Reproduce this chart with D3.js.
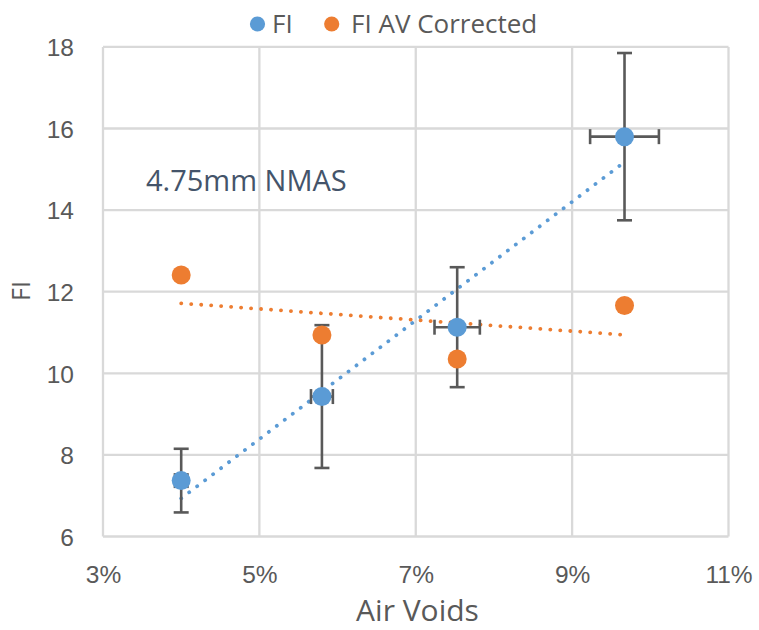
<!DOCTYPE html>
<html lang="en">
<head>
    <meta charset="UTF-8">
    <title>FI vs Air Voids</title>
    <script src="https://d3js.org/d3.v7.min.js"></script>
    <style>
        body {
            margin: 0;
            padding: 0;
            background: #fff;
        }
        svg {
            font-family: "Open Sans", "Noto Sans", sans-serif;
        }
    </style>
</head>
<body>
    <svg width="759" height="630"></svg>

    <script>
        // Measured values
        const airVoids = [4.0, 5.8, 7.53, 9.67];          // percent
        const airVoidsErr = [0.08, 0.14, 0.29, 0.44];
        const fi = [7.37, 9.43, 11.13, 15.8];
        const fiErr = [0.78, 1.75, 1.47, 2.05];
        const fiCorrected = [12.41, 10.94, 10.35, 11.66];

        const xTicks = [3, 5, 7, 9, 11];
        const yTicks = [6, 8, 10, 12, 14, 16, 18];

        const blue = "#5B9BD5";
        const orange = "#ED7D31";
        const grey = "#595959";

        const svg = d3.select("svg");
        svg.append("rect").attr("width", 759).attr("height", 630).attr("fill", "#fff");

        const x = d3.scaleLinear().domain([3, 11]).range([103, 728.5]);
        const y = d3.scaleLinear().domain([6, 18]).range([536.5, 46.9]);

        // Gridlines
        const grid = svg.append("g").attr("stroke", "#d9d9d9").attr("stroke-width", 2.3);
        grid.selectAll(".gx").data(xTicks).join("line")
            .attr("x1", d => x(d)).attr("x2", d => x(d))
            .attr("y1", y(18)).attr("y2", y(6));
        grid.selectAll(".gy").data(yTicks).join("line")
            .attr("x1", x(3)).attr("x2", x(11))
            .attr("y1", d => y(d)).attr("y2", d => y(d));

        // Axes (labels only, Excel style)
        const xAxis = svg.append("g")
            .attr("transform", `translate(0,${y(6)})`)
            .call(d3.axisBottom(x).tickValues(xTicks).tickSize(0).tickPadding(29.5)
                .tickFormat(d => d + "%"));
        const yAxis = svg.append("g")
            .attr("transform", `translate(${x(3)},0)`)
            .call(d3.axisLeft(y).tickValues(yTicks).tickSize(0).tickPadding(29));
        [xAxis, yAxis].forEach(a => {
            a.select(".domain").remove();
            a.selectAll("text")
                .attr("fill", grey)
                .style("font-size", "24.5px")
                .style("font-family", null);
        });
        yAxis.selectAll("text").attr("dy", "0.36em");

        // Axis titles
        svg.append("text")
            .attr("x", 417.5).attr("y", 621)
            .attr("text-anchor", "middle")
            .attr("fill", grey)
            .style("font-size", "30px")
            .text("Air Voids");
        svg.append("text")
            .attr("transform", "translate(30,291) rotate(-90)")
            .attr("text-anchor", "middle")
            .attr("fill", grey)
            .style("font-size", "25px")
            .text("FI");

        // Linear trendlines (least squares)
        function fit(xs, ys) {
            const mx = d3.mean(xs), my = d3.mean(ys);
            const sxy = d3.sum(xs, (v, i) => (v - mx) * (ys[i] - my));
            const sxx = d3.sum(xs, v => (v - mx) ** 2);
            const slope = sxy / sxx;
            return v => my + slope * (v - mx);
        }
        const xExtent = d3.extent(airVoids);
        [[fi, blue], [fiCorrected, orange]].forEach(([ys, color]) => {
            const f = fit(airVoids, ys);
            svg.append("line")
                .attr("x1", x(xExtent[0])).attr("y1", y(f(xExtent[0])))
                .attr("x2", x(xExtent[1])).attr("y2", y(f(xExtent[1])))
                .attr("stroke", color)
                .attr("stroke-width", 3.8)
                .attr("stroke-linecap", "round")
                .attr("stroke-dasharray", "0.1 9.9");
        });

        // Error bars for FI
        const capHalf = 7.5;
        const err = svg.append("g").attr("stroke", grey).attr("stroke-width", 2.6);
        airVoids.forEach((av, i) => {
            const cx = x(av), cy = y(fi[i]);
            const top = y(fi[i] + fiErr[i]), bot = y(fi[i] - fiErr[i]);
            const left = x(av - airVoidsErr[i]), right = x(av + airVoidsErr[i]);
            err.append("line").attr("x1", cx).attr("x2", cx).attr("y1", top).attr("y2", bot);
            err.append("line").attr("x1", cx - capHalf).attr("x2", cx + capHalf).attr("y1", top).attr("y2", top);
            err.append("line").attr("x1", cx - capHalf).attr("x2", cx + capHalf).attr("y1", bot).attr("y2", bot);
            err.append("line").attr("x1", left).attr("x2", right).attr("y1", cy).attr("y2", cy);
            err.append("line").attr("x1", left).attr("x2", left).attr("y1", cy - capHalf).attr("y2", cy + capHalf);
            err.append("line").attr("x1", right).attr("x2", right).attr("y1", cy - capHalf).attr("y2", cy + capHalf);
        });

        // Markers
        svg.append("g").selectAll("circle").data(airVoids).join("circle")
            .attr("cx", d => x(d)).attr("cy", (d, i) => y(fiCorrected[i]))
            .attr("r", 9.5).attr("fill", orange);
        svg.append("g").selectAll("circle").data(airVoids).join("circle")
            .attr("cx", d => x(d)).attr("cy", (d, i) => y(fi[i]))
            .attr("r", 9.5).attr("fill", blue);

        // Annotation
        svg.append("text")
            .attr("x", 146).attr("y", 191)
            .attr("fill", "#44546A")
            .style("font-size", "29px")
            .text("4.75mm NMAS");

        // Legend
        const legend = svg.append("g").style("font-size", "26px").attr("fill", grey);
        legend.append("circle").attr("cx", 257.5).attr("cy", 24).attr("r", 7.6).attr("fill", blue);
        legend.append("text").attr("x", 272).attr("y", 33).text("FI");
        legend.append("circle").attr("cx", 331.7).attr("cy", 24).attr("r", 7.6).attr("fill", orange);
        legend.append("text").attr("x", 351).attr("y", 33).text("FI AV Corrected");
    </script>
</body>
</html>
